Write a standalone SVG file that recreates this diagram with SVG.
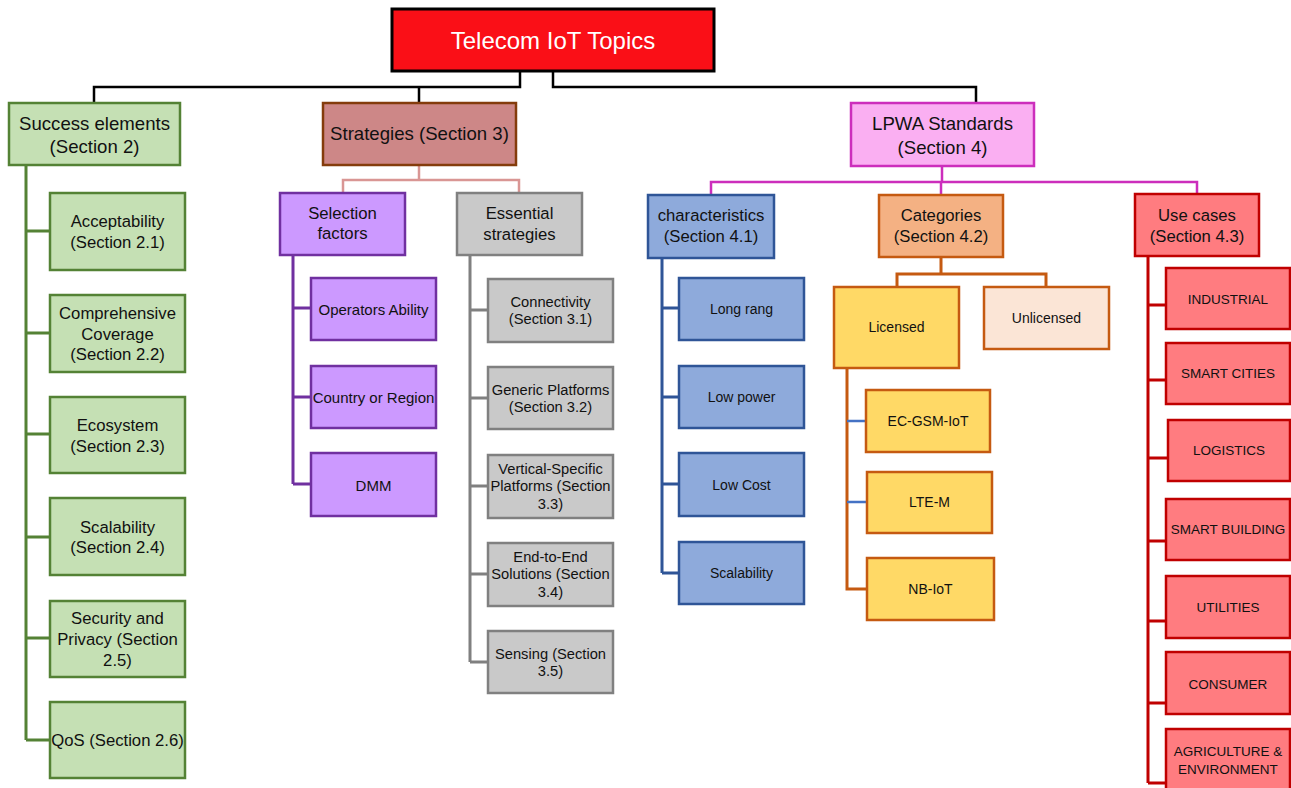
<svg xmlns="http://www.w3.org/2000/svg" width="1291" height="788" viewBox="0 0 1291 788">
<style>
text{font-family:"Liberation Sans",Arial,sans-serif;fill:#111;text-anchor:middle;dominant-baseline:central}
.c{fill:none;stroke-width:2.5}
.bk{stroke:#000}
.gr{stroke:#548235;stroke-width:3}
.sp{stroke:#D99694}
.pu{stroke:#7030A0;stroke-width:3}
.gy{stroke:#808080;stroke-width:3}
.pk{stroke:#CC2EBC}
.bl{stroke:#2F5597;stroke-width:3}
.bl2{stroke:#4472C4}
.or{stroke:#C55A11;stroke-width:3}
.rd{stroke:#C00000;stroke-width:3}
rect{stroke-width:2.5}
.root{fill:#FA0F17;stroke:#000;stroke-width:3}
.g{fill:#C5E0B4;stroke:#548235}
.s{fill:#CD8787;stroke:#843C0C}
.p{fill:#CC99FF;stroke:#7030A0}
.e{fill:#C9C9C9;stroke:#808080}
.l{fill:#FAAFF2;stroke:#CC2EBC}
.b{fill:#8EAADB;stroke:#2F5597}
.o{fill:#F4B183;stroke:#C55A11}
.y{fill:#FFD966;stroke:#C55A11}
.u{fill:#FBE5D6;stroke:#C55A11}
.r{fill:#FF7C80;stroke:#C00000}
.t21{font-size:24px;fill:#fff}
.t18{font-size:18.6px}
.t16{font-size:16.7px}
.t15{font-size:15px}
.t147{font-size:14.7px}
.t14{font-size:14px}
.t13{font-size:13.5px}
</style>
<g id="connectors">
<path class="c bk" d="M520,71 V87 H94 V102 M419,87 V102 M553,71 V87 H976 V102"/>
<path class="c sp" d="M419,165 V180 M343,193 V180 H519 V193"/>
<path class="c gr" d="M26,165 V740 M26,231 H50 M26,333 H50 M26,434 H50 M26,537 H50 M26,638 H50 M26,740 H50"/>
<path class="c pu" d="M293,255 V484 M293,308 H311 M293,397 H311 M293,484 H311"/>
<path class="c gy" d="M470,255 V662 M470,310 H488 M470,398 H488 M470,486 H488 M470,574 H488 M470,662 H488"/>
<path class="c pk" d="M942,166 V182 M711,195 V182 H1197 V194 M941,182 V195"/>
<path class="c bl" d="M662,258 V573 M662,308 H679 M662,397 H679 M662,484 H679 M662,573 H679"/>
<path class="c or" d="M941,257 V274 M897,287 V274 H1046 V287"/>
<path class="c or" d="M847,368 V589 H867"/>
<path class="c bl2" d="M847,421 H866 M847,502 H867"/>
<path class="c rd" d="M1148,256 V783 M1148,305 H1166 M1148,380 H1166 M1148,458 H1168 M1148,541 H1166 M1148,621 H1166 M1148,703 H1166 M1148,783 H1166"/>
</g>
<g id="root"><rect class="root" x="392" y="9" width="322" height="62"/><text class="t21" x="553" y="40">Telecom IoT Topics</text></g>
<g id="success"><rect class="g" x="9" y="103" width="171" height="62"/><text class="t18" x="94.5" y="123">Success elements</text><text class="t18" x="94.5" y="146">(Section 2)</text></g>
<g id="strategies"><rect class="s" x="323" y="103" width="193" height="62"/><text class="t18" x="419.5" y="133">Strategies (Section 3)</text></g>
<g id="lpwa"><rect class="l" x="851" y="103" width="183" height="63"/><text class="t18" x="942.5" y="123">LPWA Standards</text><text class="t18" x="942.5" y="147">(Section 4)</text></g>
<g id="acceptability"><rect class="g" x="50" y="193" width="135" height="77"/><text class="t16" x="117.5" y="221">Acceptability</text><text class="t16" x="117.5" y="242">(Section 2.1)</text></g>
<g id="coverage"><rect class="g" x="50" y="295" width="135" height="77"/><text class="t16" x="117.5" y="313">Comprehensive</text><text class="t16" x="117.5" y="334">Coverage</text><text class="t16" x="117.5" y="354">(Section 2.2)</text></g>
<g id="ecosystem"><rect class="g" x="50" y="397" width="135" height="76"/><text class="t16" x="117.5" y="425">Ecosystem</text><text class="t16" x="117.5" y="446">(Section 2.3)</text></g>
<g id="scalability2"><rect class="g" x="50" y="498" width="135" height="77"/><text class="t16" x="117.5" y="527">Scalability</text><text class="t16" x="117.5" y="547">(Section 2.4)</text></g>
<g id="security"><rect class="g" x="50" y="601" width="135" height="76"/><text class="t16" x="117.5" y="618">Security and</text><text class="t16" x="117.5" y="639">Privacy (Section</text><text class="t16" x="117.5" y="660">2.5)</text></g>
<g id="qos"><rect class="g" x="50" y="702" width="135" height="76"/><text class="t16" x="117.5" y="740">QoS (Section 2.6)</text></g>
<g id="selection"><rect class="p" x="280" y="193" width="125" height="62"/><text class="t16" x="342.5" y="213">Selection</text><text class="t16" x="342.5" y="233">factors</text></g>
<g id="essential"><rect class="e" x="457" y="193" width="125" height="62"/><text class="t16" x="519.5" y="213">Essential</text><text class="t16" x="519.5" y="234">strategies</text></g>
<g id="operators"><rect class="p" x="311" y="278" width="125" height="62"/><text class="t15" x="373.5" y="309">Operators Ability</text></g>
<g id="country"><rect class="p" x="311" y="366" width="125" height="62"/><text class="t15" x="373.5" y="397">Country or Region</text></g>
<g id="dmm"><rect class="p" x="311" y="453" width="125" height="63"/><text class="t15" x="373.5" y="485">DMM</text></g>
<g id="connectivity"><rect class="e" x="488" y="279" width="125" height="63"/><text class="t147" x="550.5" y="302">Connectivity</text><text class="t147" x="550.5" y="319">(Section 3.1)</text></g>
<g id="generic"><rect class="e" x="488" y="367" width="125" height="62"/><text class="t147" x="550.5" y="390">Generic Platforms</text><text class="t147" x="550.5" y="407">(Section 3.2)</text></g>
<g id="vertical"><rect class="e" x="488" y="455" width="125" height="63"/><text class="t147" x="550.5" y="469">Vertical-Specific</text><text class="t147" x="550.5" y="486">Platforms (Section</text><text class="t147" x="550.5" y="504">3.3)</text></g>
<g id="endtoend"><rect class="e" x="488" y="543" width="125" height="63"/><text class="t147" x="550.5" y="557">End-to-End</text><text class="t147" x="550.5" y="574">Solutions (Section</text><text class="t147" x="550.5" y="592">3.4)</text></g>
<g id="sensing"><rect class="e" x="488" y="631" width="125" height="62"/><text class="t147" x="550.5" y="654">Sensing (Section</text><text class="t147" x="550.5" y="671">3.5)</text></g>
<g id="characteristics"><rect class="b" x="648" y="195" width="126" height="63"/><text class="t16" x="711" y="215">characteristics</text><text class="t16" x="711" y="236">(Section 4.1)</text></g>
<g id="categories"><rect class="o" x="879" y="195" width="124" height="62"/><text class="t16" x="941" y="215">Categories</text><text class="t16" x="941" y="236">(Section 4.2)</text></g>
<g id="usecases"><rect class="r" x="1135" y="194" width="124" height="62"/><text class="t16" x="1197" y="215">Use cases</text><text class="t16" x="1197" y="236">(Section 4.3)</text></g>
<g id="longrang"><rect class="b" x="679" y="278" width="125" height="62"/><text class="t14" x="741.5" y="309">Long rang</text></g>
<g id="lowpower"><rect class="b" x="679" y="366" width="125" height="62"/><text class="t14" x="741.5" y="397">Low power</text></g>
<g id="lowcost"><rect class="b" x="679" y="453" width="125" height="63"/><text class="t14" x="741.5" y="485">Low Cost</text></g>
<g id="scalability4"><rect class="b" x="679" y="542" width="125" height="62"/><text class="t14" x="741.5" y="573">Scalability</text></g>
<g id="licensed"><rect class="y" x="834" y="287" width="125" height="81"/><text class="t14" x="896.5" y="327">Licensed</text></g>
<g id="unlicensed"><rect class="u" x="984" y="287" width="125" height="62"/><text class="t14" x="1046.5" y="318">Unlicensed</text></g>
<g id="ecgsm"><rect class="y" x="866" y="390" width="124" height="62"/><text class="t14" x="928" y="421">EC-GSM-IoT</text></g>
<g id="ltem"><rect class="y" x="867" y="472" width="125" height="61"/><text class="t14" x="929.5" y="502">LTE-M</text></g>
<g id="nbiot"><rect class="y" x="867" y="558" width="127" height="62"/><text class="t14" x="930.5" y="589">NB-IoT</text></g>
<g id="industrial"><rect class="r" x="1166" y="268" width="124" height="61"/><text class="t13" x="1228" y="299">INDUSTRIAL</text></g>
<g id="smartcities"><rect class="r" x="1166" y="343" width="124" height="61"/><text class="t13" x="1228" y="373">SMART CITIES</text></g>
<g id="logistics"><rect class="r" x="1168" y="420" width="122" height="61"/><text class="t13" x="1229" y="450">LOGISTICS</text></g>
<g id="smartbuilding"><rect class="r" x="1166" y="499" width="124" height="61"/><text class="t13" x="1228" y="529">SMART BUILDING</text></g>
<g id="utilities"><rect class="r" x="1166" y="576" width="124" height="62"/><text class="t13" x="1228" y="607">UTILITIES</text></g>
<g id="consumer"><rect class="r" x="1166" y="652" width="124" height="62"/><text class="t13" x="1228" y="684">CONSUMER</text></g>
<g id="agriculture"><rect class="r" x="1166" y="729" width="124" height="70"/><text class="t13" x="1228" y="751">AGRICULTURE &amp;</text><text class="t13" x="1228" y="769">ENVIRONMENT</text></g>
</svg>
